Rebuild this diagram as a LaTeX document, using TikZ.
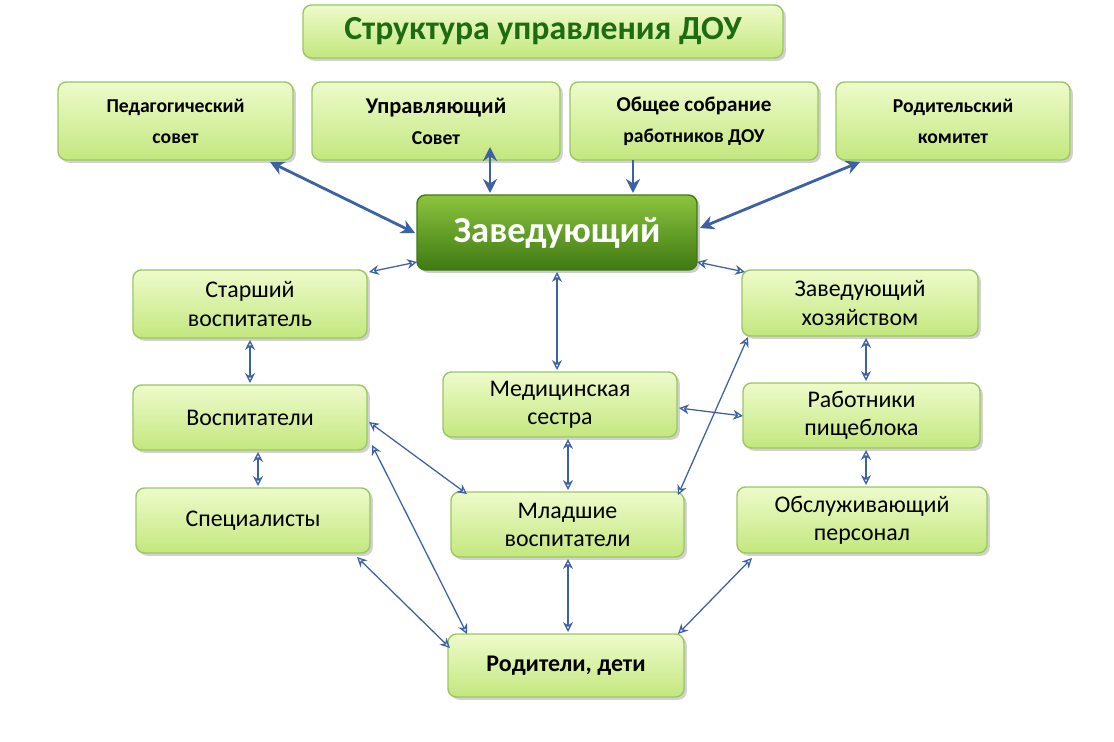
\documentclass[tikz,border=0pt]{standalone}
\usepackage{fontspec}
\setmainfont{Carlito}
\usetikzlibrary{shadows,arrows.meta}
\definecolor{btop}{HTML}{EEFBCB}
\definecolor{bbot}{HTML}{C3E77E}
\definecolor{bdr}{HTML}{9CC662}
\definecolor{dtop}{HTML}{8CC43E}
\definecolor{dbot}{HTML}{3E7A13}
\definecolor{arr}{HTML}{3D62A4}
\definecolor{ttl}{HTML}{1E6B12}
\tikzset{
 box/.style={draw=bdr,line width=1pt,rounded corners=6pt,top color=btop,bottom color=bbot,
   drop shadow={shadow xshift=2pt,shadow yshift=-2pt,opacity=0.35},align=center,
   font=\fontsize{17}{20}\selectfont,inner sep=0pt},
 topbox/.style={box,font=\bfseries\fontsize{14}{22}\selectfont},
 dark/.style={draw=dbot,line width=1pt,rounded corners=6pt,top color=dtop,bottom color=dbot,
   drop shadow={shadow xshift=2pt,shadow yshift=-2pt,opacity=0.4},text=white,
   font=\bfseries\fontsize{26}{30}\selectfont,inner sep=0pt},
 thin/.style={arr,line width=0.9pt,{Stealth[length=7pt,width=7pt,open]}-{Stealth[length=7pt,width=7pt,open]}},
 thick/.style={arr,line width=2pt,{Stealth[length=10pt,width=10pt]}-{Stealth[length=10pt,width=10pt]}},
}
\newcommand{\bx}[6]{\node[#1,minimum width={(#4-#2)*0.025cm},minimum height={(#5-#3)*0.025cm}] (#6) at ({(#2+#4)/2},{(#3+#5)/2})}
\begin{document}
\begin{tikzpicture}[x=0.025cm,y=-0.025cm]
\useasboundingbox[fill=white] (0,0) rectangle (1114,742);
\bx{box}{303}{5}{783}{58}{title}{\textcolor{ttl}{\bfseries\fontsize{24}{28}\selectfont Структура управления ДОУ}};
\bx{topbox}{58}{82}{293}{160}{ped}{Педагогический\\совет};
\bx{topbox}{312}{82}{560}{160}{upr}{\fontsize{16}{24}\selectfont Управляющий\\Совет};
\bx{topbox}{570}{82}{818}{160}{obs}{\fontsize{15}{22}\selectfont Общее собрание\\работников ДОУ};
\bx{topbox}{836}{82}{1070}{160}{rod}{Родительский\\комитет};
\bx{dark}{417}{195}{697}{270}{zav}{Заведующий};
\bx{box}{133}{270}{367}{338}{st}{Старший\\воспитатель};
\bx{box}{742}{270}{978}{336}{zh}{Заведующий\\хозяйством};
\bx{box}{133}{385}{367}{450}{vos}{Воспитатели};
\bx{box}{443}{372}{677}{437}{med}{Медицинская\\сестра};
\bx{box}{743}{383}{980}{448}{rab}{Работники\\пищеблока};
\bx{box}{136}{488}{370}{553}{spec}{Специалисты};
\bx{box}{451}{492}{684}{557}{ml}{Младшие\\воспитатели};
\bx{box}{737}{487}{987}{553}{obsl}{Обслуживающий\\персонал};
\bx{box}{448}{634}{684}{697}{par}{\bfseries Родители, дети};
% thick
\draw[thick] (270,162) -- (415,233);
\draw[thick] (490,147) -- (490,193);
\draw[arr,line width=2pt,-{Stealth[length=10pt,width=10pt]}] (633,160) -- (633,193);
\draw[thick] (860,162) -- (700,228);
% thin
\draw[thin] (417,262) -- (369,272);
\draw[thin] (697,262) -- (745,272);
\draw[thin] (557,272) -- (557,370);
\draw[thin] (250,340) -- (250,383);
\draw[thin] (866,338) -- (866,381);
\draw[thin] (679,408) -- (743,416);
\draw[thin] (258,452) -- (258,486);
\draw[thin] (568,439) -- (568,490);
\draw[thin] (369,422) -- (467,494);
\draw[thin] (372,445) -- (467,634);
\draw[thin] (357,557) -- (450,648);
\draw[thin] (748,337) -- (678,495);
\draw[thin] (568,559) -- (568,632);
\draw[thin] (752,558) -- (678,634);
\draw[thin] (866,450) -- (866,485);
\end{tikzpicture}
\end{document}
